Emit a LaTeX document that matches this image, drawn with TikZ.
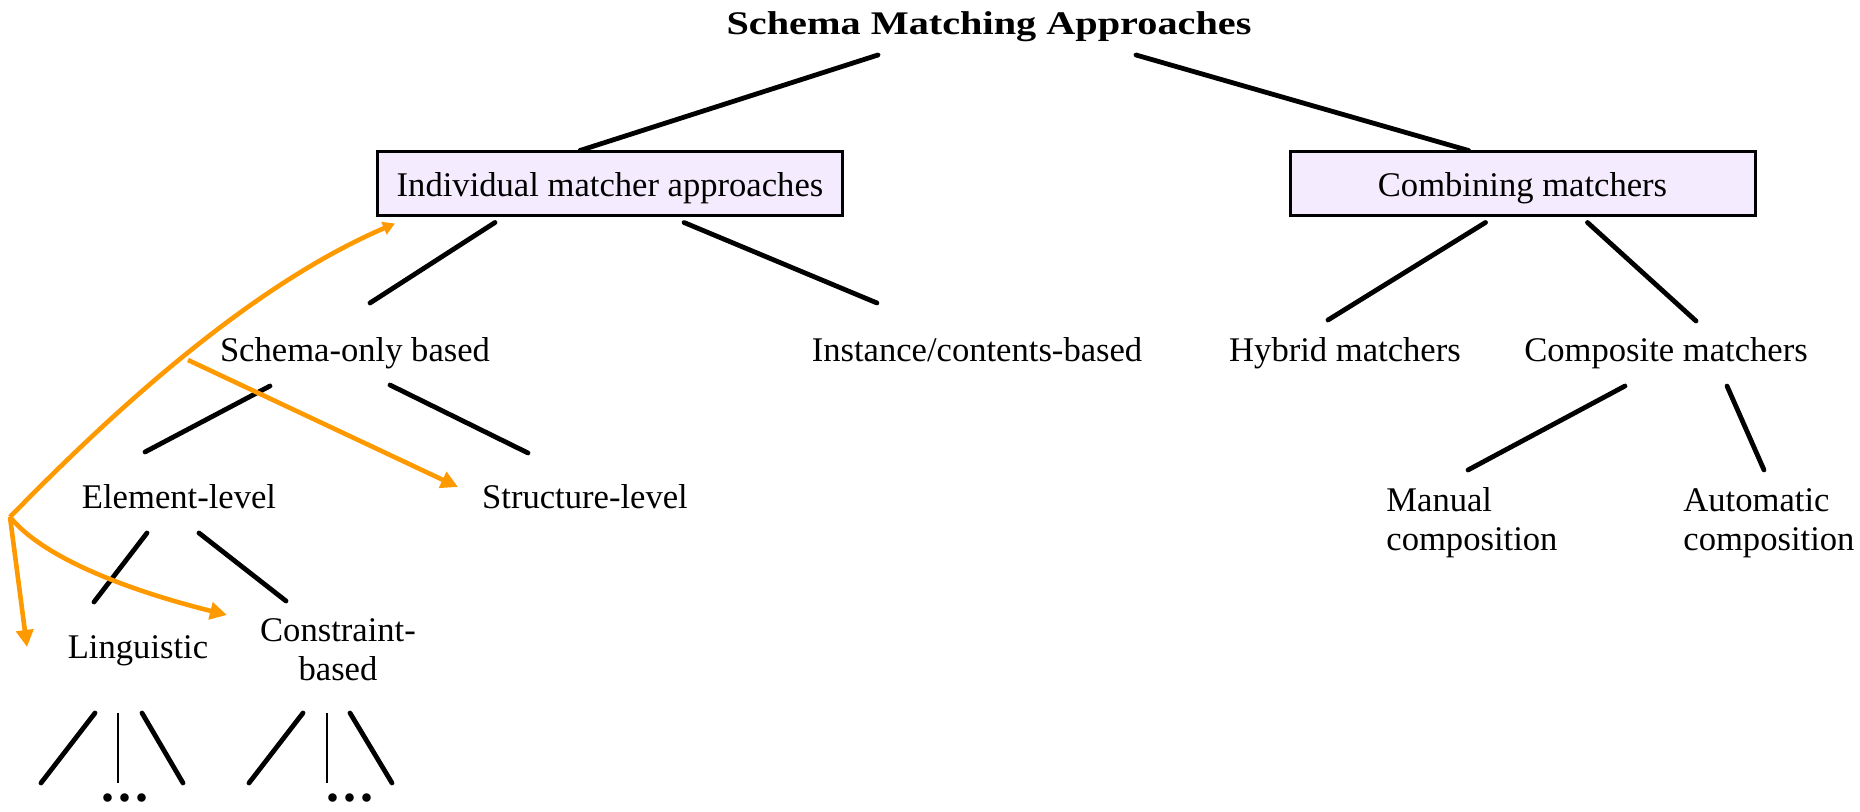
\documentclass[tikz,border=0pt]{standalone}
\usepackage{fontspec}
\usepackage{graphicx}
\setmainfont{Liberation Serif}
\usetikzlibrary{arrows.meta,calc}
\definecolor{boxfill}{RGB}{244,236,254}
\definecolor{arrorange}{RGB}{255,153,0}
\begin{document}
\begin{tikzpicture}[x=0.5pt,y=-0.5pt,
  lbl/.style={inner sep=0pt, anchor=base, font=\fontsize{17.3}{19.5}\selectfont},
  dotlbl/.style={inner sep=0pt, anchor=base, text depth=0pt, font=\fontsize{26}{28}\selectfont\bfseries},
  catbox/.style={draw, line width=1.5pt, fill=boxfill, minimum width=232.5pt, minimum height=32pt,
    inner sep=0pt, text height=13pt, text depth=0pt, font=\fontsize{17.3}{19.5}\selectfont},
  edge/.style={line width=2.4pt, line cap=round},
  thinedge/.style={line width=1.4pt},
  hint/.style={draw=arrorange, line width=2.3pt, -{Triangle[length=8.5pt,width=8.5pt]}},
]
\useasboundingbox[fill=white] (0,0) rectangle (1860,812);

% nodes
\node[lbl, font=\fontsize{16.5}{19}\selectfont\bfseries] (title) at (989,35)
  {\scalebox{1.22}[1]{Schema Matching Approaches}};
\node[catbox] (box1) at (610,184) {Individual matcher approaches};
\node[catbox] (box2) at (1522.5,184) {Combining matchers};
\node[lbl] (schema) at (355,362) {Schema-only based};
\node[lbl] (instance) at (977,362) {Instance/contents-based};
\node[lbl] (hybrid) at (1345,362) {Hybrid matchers};
\node[lbl] (composite) at (1666,362) {Composite matchers};
\node[lbl] (element) at (179,509) {Element-level};
\node[lbl] (structure) at (585,509) {Structure-level};
\node[lbl] (linguistic) at (138,659) {Linguistic};
\node[lbl] (constraint) at (338,642) {\begin{tabular}[t]{@{}c@{}}Constraint-\\based\end{tabular}};
\node[lbl, anchor=base west] (manual) at (1386,512) {\begin{tabular}[t]{@{}l@{}}Manual\\composition\end{tabular}};
\node[lbl, anchor=base west] (automatic) at (1683,512) {\begin{tabular}[t]{@{}l@{}}Automatic\\composition\end{tabular}};
\node[dotlbl] (dotsA) at (125,801) {.\hspace{2pt}.\hspace{2pt}.};
\node[dotlbl] (dotsB) at (350,801) {.\hspace{2pt}.\hspace{2pt}.};

% tree connectors
\draw[edge] ([shift={(-111,20)}]title.base) -- ([shift={(-30,0)}]box1.north);
\draw[edge] ([shift={(147,20)}]title.base) -- ([shift={(-54,0)}]box2.north);
\draw[edge] ([shift={(-115,5)}]box1.south) -- ([shift={(15,-59)}]schema.base);
\draw[edge] ([shift={(74,5)}]box1.south) -- ([shift={(-100,-59)}]instance.base);
\draw[edge] ([shift={(-37,5)}]box2.south) -- ([shift={(-17,-42)}]hybrid.base);
\draw[edge] ([shift={(65,5)}]box2.south) -- ([shift={(30,-41)}]composite.base);
\draw[edge] ([shift={(-85,24)}]schema.base) -- ([shift={(-34,-57)}]element.base);
\draw[edge] ([shift={(35,23)}]schema.base) -- ([shift={(-57,-56)}]structure.base);
\draw[edge] ([shift={(-32,24)}]element.base) -- ([shift={(-44,-57)}]linguistic.base);
\draw[edge] ([shift={(20,24)}]element.base) -- ([shift={(-52,-41)}]constraint.base);
\draw[edge] ([shift={(-41,24)}]composite.base) -- ([shift={(82,-42)}]manual.base west);
\draw[edge] ([shift={(61,24)}]composite.base) -- ([shift={(81,-42)}]automatic.base west);
% lower fans
\draw[edge] ([shift={(-43,54)}]linguistic.base) -- ([shift={(-84,-18)}]dotsA.base);
\draw[thinedge] ([shift={(-20,54)}]linguistic.base) -- ([shift={(-7,-18)}]dotsA.base);
\draw[edge] ([shift={(4,54)}]linguistic.base) -- ([shift={(58,-18)}]dotsA.base);
\draw[edge] ([shift={(-35,71)}]constraint.base) -- ([shift={(-101,-18)}]dotsB.base);
\draw[thinedge] ([shift={(-11,71)}]constraint.base) -- ([shift={(-23,-18)}]dotsB.base);
\draw[edge] ([shift={(12,71)}]constraint.base) -- ([shift={(42,-18)}]dotsB.base);

% orange hint arrows
\coordinate (K) at (10,517);
\draw[hint, -{Triangle[length=6pt,width=6.5pt]}] (K) .. controls (95,430) and (240,290) .. ([shift={(19,6)}]box1.south west);
\draw[hint] (K) -- ([shift={(-111,-12)}]linguistic.base);
\draw[hint] (K) .. controls (45,560) and (135,592) .. ([shift={(-111,-27)}]constraint.base);
\draw[hint] ([shift={(-167,-2)}]schema.base) -- ([shift={(-127,-22)}]structure.base);
\end{tikzpicture}
\end{document}
